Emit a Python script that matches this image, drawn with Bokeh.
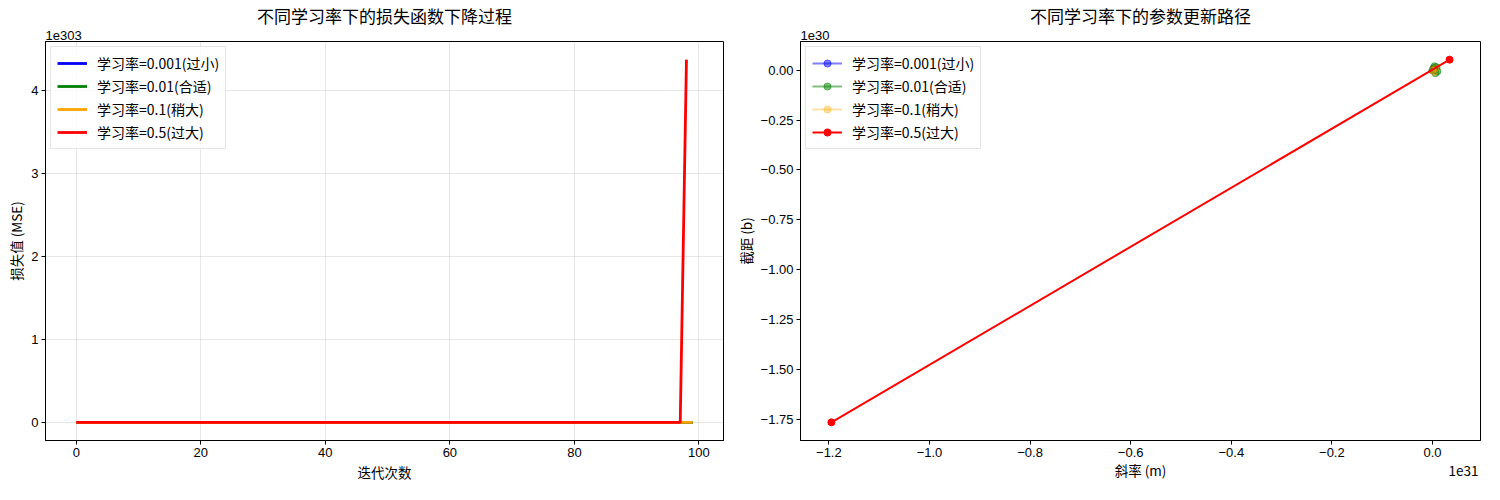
from bokeh.plotting import figure
from bokeh.models import Range1d, FixedTicker, Legend, LegendItem, Title, LinearAxis
from bokeh.layouts import row
from bokeh.embed import file_html
from bokeh.resources import INLINE

FONT = "Noto Sans CJK SC"
NUMFONT = "Liberation Sans"

# ---------------- data ----------------
labels = ["学习率=0.001(过小)", "学习率=0.01(合适)", "学习率=0.1(稍大)", "学习率=0.5(过大)"]
colors = ["blue", "green", "orange", "red"]

# left: loss per iteration, in units of 1e303
iters_full = list(range(100))
iters_red = list(range(99))
loss_001 = [0.0] * 100
loss_01 = [0.0] * 100
loss_1 = [0.0] * 100
loss_5 = [0.0] * 98 + [4.37]

# right: parameter path, m in units of 1e31, b in units of 1e30
m_001 = [0.000, 0.002, 0.004]
b_001 = [0.000, 0.005, 0.010]
m_01 = [0.000, 0.004, 0.008, 0.010, 0.006, 0.002]
b_01 = [0.000, 0.020, 0.015, -0.005, -0.015, 0.010]
m_1 = [0.000, 0.006, 0.003]
b_1 = [0.000, 0.010, -0.010]
m_5 = [0.034, -1.195]
b_5 = [0.053, -1.765]

left_xticks = [0, 20, 40, 60, 80, 100]
left_yticks = [0, 1, 2, 3, 4]
right_xticks = [-1.2, -1.0, -0.8, -0.6, -0.4, -0.2, 0.0]
right_yticks = [0.0, -0.25, -0.5, -0.75, -1.0, -1.25, -1.5, -1.75]


def pad(lo, hi, f=0.05):
    s = hi - lo
    return lo - f * s, hi + f * s


def style_axis(ax):
    ax.axis_label_text_font = FONT
    ax.axis_label_text_font_size = "13.5px"
    ax.axis_label_text_font_style = "normal"
    ax.axis_label_text_color = "black"
    ax.major_label_text_font = NUMFONT
    ax.major_label_text_font_size = "13px"
    ax.major_label_text_color = "black"
    ax.axis_line_color = "black"
    ax.major_tick_line_color = "black"
    ax.major_tick_out = 4
    ax.major_tick_in = 0
    ax.minor_tick_line_color = None
    ax.axis_label_standoff = 2
    ax.major_label_standoff = 3


def style(p, exponent):
    p.outline_line_color = "black"
    p.outline_line_alpha = 1
    p.outline_line_width = 1
    p.title.text_font = FONT
    p.title.text_font_size = "17px"
    p.title.text_font_style = "normal"
    p.title.align = "center"
    p.title.text_color = "black"
    p.title.standoff = 0
    style_axis(p.xaxis[0])
    style_axis(p.yaxis[0])
    p.add_layout(Title(text=exponent, align="left", text_font=NUMFONT, text_font_size="13px",
                       text_font_style="normal", text_color="black", standoff=3), "above")


def legend_style(lg):
    lg.location = "top_left"
    lg.label_text_font = FONT
    lg.label_text_font_size = "14px"
    lg.label_text_color = "black"
    lg.glyph_width = 30
    lg.glyph_height = 18
    lg.label_height = 18
    lg.spacing = 3
    lg.padding = 6
    lg.margin = 5
    lg.label_standoff = 10
    lg.border_line_color = "#cccccc"
    lg.border_line_width = 1
    lg.background_fill_alpha = 0.8


# ---------------- left figure ----------------
x0, x1 = pad(0, 99)
y0, y1 = pad(min(loss_5), max(loss_5))
p1 = figure(width=732, height=484, output_backend="svg", toolbar_location=None,
            x_range=Range1d(x0, x1), y_range=Range1d(y0, y1),
            title="不同学习率下的损失函数下降过程",
            min_border_left=45, min_border_right=9, min_border_top=5, min_border_bottom=5)
style(p1, "1e303")
p1.xaxis.axis_label = "迭代次数"
p1.yaxis.axis_label = "损失值 (MSE)"
p1.xaxis.ticker = FixedTicker(ticks=left_xticks)
p1.yaxis.ticker = FixedTicker(ticks=left_yticks)
p1.grid.grid_line_color = "#b0b0b0"
p1.grid.grid_line_alpha = 0.3

series_left = [(iters_full, loss_001), (iters_full, loss_01), (iters_full, loss_1), (iters_red, loss_5)]
items = []
for (xs, ys), c, lab in zip(series_left, colors, labels):
    r = p1.line(xs, ys, line_color=c, line_width=2.8)
    items.append(LegendItem(label=lab, renderers=[r]))
lg1 = Legend(items=items)
legend_style(lg1)
p1.add_layout(lg1, "center")

# ---------------- right figure ----------------
all_m = m_001 + m_01 + m_1 + m_5
all_b = b_001 + b_01 + b_1 + b_5
rx0, rx1 = pad(min(all_m), max(all_m))
ry0, ry1 = pad(min(all_b), max(all_b))
p2 = figure(width=752, height=484, output_backend="svg", toolbar_location=None,
            x_range=Range1d(rx0, rx1), y_range=Range1d(ry0, ry1),
            title="不同学习率下的参数更新路径",
            min_border_left=68, min_border_right=4, min_border_top=5, min_border_bottom=5)
style(p2, "1e30")
p2.yaxis.axis_label = "截距 (b)"
p2.xaxis.ticker = FixedTicker(ticks=right_xticks)
p2.yaxis.ticker = FixedTicker(ticks=right_yticks)
p2.xaxis.major_label_overrides = {t: ("%.1f" % t).replace("-", "\u2212") for t in right_xticks}
p2.yaxis.major_label_overrides = {t: ("%.2f" % t).replace("-", "\u2212") for t in right_yticks}
p2.grid.grid_line_color = None

# second row under the x ticks: axis title in the middle, offset text at the right end
mid = (rx0 + rx1) / 2
off_pos = rx1 - 0.025 * (rx1 - rx0)
ax2 = LinearAxis(ticker=FixedTicker(ticks=[mid, off_pos]),
                 major_label_overrides={mid: "斜率 (m)", off_pos: "1e31"})
style_axis(ax2)
ax2.axis_line_color = None
ax2.major_tick_line_color = None
ax2.major_tick_out = 0
ax2.major_label_standoff = 0
ax2.major_label_text_font = FONT
ax2.major_label_text_font_size = "13.5px"
p2.add_layout(ax2, "below")

series_right = [(m_001, b_001), (m_01, b_01), (m_1, b_1), (m_5, b_5)]
alphas = [0.5, 0.5, 0.35, 1.0]
items2 = []
for (xs, ys), c, lab, a in zip(series_right, colors, labels, alphas):
    rl = p2.line(xs, ys, line_color=c, line_width=2, line_alpha=a)
    rs = p2.scatter(xs, ys, size=7, fill_color=c, line_color=c, fill_alpha=a, line_alpha=a)
    items2.append(LegendItem(label=lab, renderers=[rl, rs]))
lg2 = Legend(items=items2)
legend_style(lg2)
p2.add_layout(lg2, "center")

layout = row(p1, p2)
open("out.html", "w").write(file_html(layout, INLINE))
